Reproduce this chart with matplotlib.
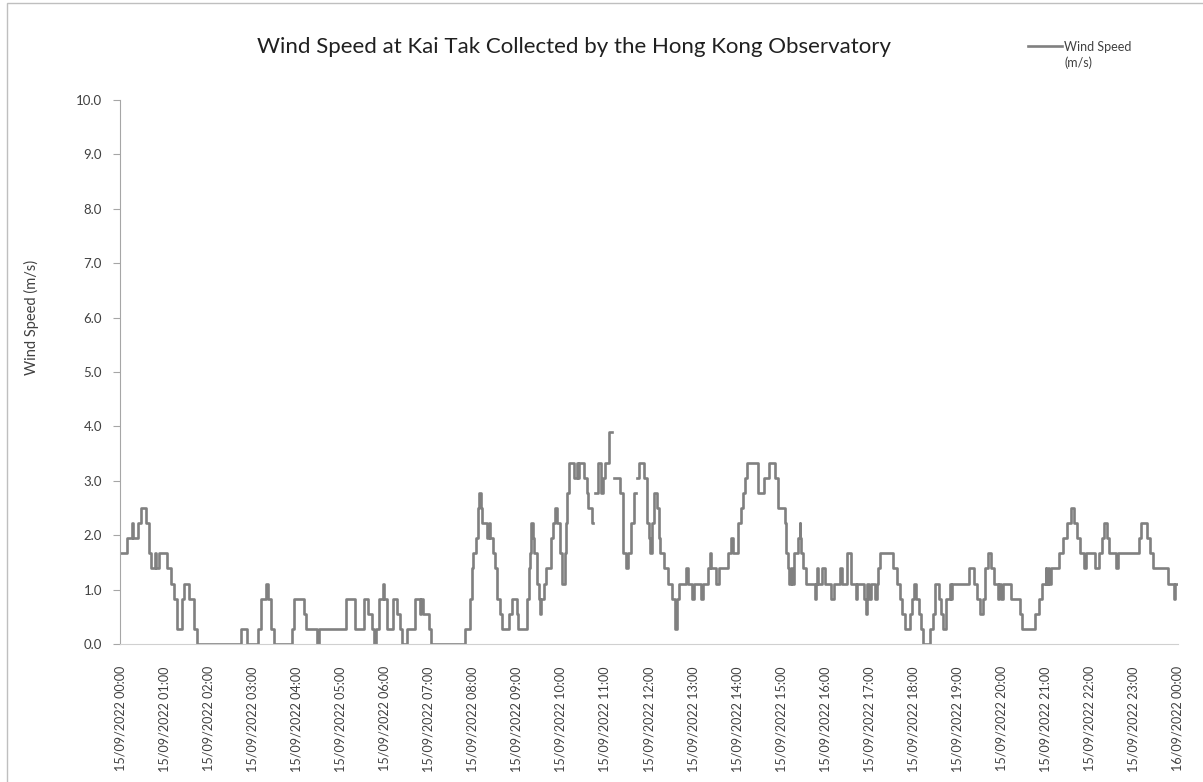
import pandas as pd
import matplotlib
matplotlib.use("Agg")
import matplotlib.pyplot as plt
import matplotlib.dates as mdates
from matplotlib.patches import Rectangle

# minutes after 15/09/2022 00:00 at which the reading changes
minutes = [
    0, 9, 16, 18, 25, 29, 35, 39, 42, 48, 49, 53, 64, 70, 74, 77, 84, 87, 94, 100,
    105, 164, 173, 188, 192, 198, 201, 205, 209, 234, 237, 250, 253, 268, 271, 308,
    320, 332, 338, 343, 345, 348, 352, 358, 359, 363, 372, 377, 381, 384, 390, 402,
    408, 410, 413, 421, 423, 470, 477, 479, 481, 484, 487, 488, 491, 493, 500, 502,
    503, 507, 510, 513, 517, 520, 530, 534, 540, 542, 554, 556, 558, 560, 562, 563,
    567, 570, 571, 573, 577, 580, 586, 589, 592, 595, 599, 602, 605, 607, 609, 611,
    618, 622, 623, 625, 632, 635, 637, 642, 644, 646, 651, 654, 657, 660, 666, 670,
    673, 681, 684, 689, 692, 695, 700, 702, 704, 707, 713, 717, 720, 722, 724, 727,
    731, 733, 735, 741, 746, 751, 755, 758, 761, 770, 773, 779, 781, 791, 793, 800,
    803, 805, 811, 815, 827, 832, 834, 841, 845, 848, 851, 854, 868, 877, 883, 891,
    895, 896, 905, 907, 909, 911, 913, 915, 917, 918, 923, 925, 926, 927, 929, 933,
    946, 947, 949, 950, 955, 959, 968, 972, 980, 982, 989, 995, 1002, 1003, 1012,
    1015, 1017, 1019, 1022, 1027, 1030, 1032, 1034, 1052, 1057, 1061, 1064, 1068,
    1075, 1078, 1081, 1084, 1087, 1090, 1093, 1103, 1107, 1109, 1115, 1118, 1120,
    1124, 1130, 1131, 1132, 1155, 1163, 1167, 1171, 1174, 1177, 1181, 1186, 1189,
    1195, 1197, 1199, 1202, 1213, 1225, 1228, 1246, 1251, 1255, 1260, 1261, 1263,
    1265, 1267, 1278, 1284, 1289, 1295, 1299, 1302, 1306, 1312, 1315, 1327, 1332,
    1336, 1339, 1343, 1346, 1355, 1358, 1387, 1390, 1398, 1402, 1406, 1427, 1434,
    1436, 1440,
]

nan = float("nan")
# wind speed (m/s) from each change time, nan = missing reading
speed = [
    1.67, 1.94, 2.22, 1.94, 2.22, 2.50, 2.22, 1.67, 1.39, 1.67, 1.39, 1.67, 1.39, 1.11, 0.83, 0.28, 0.83, 1.11, 0.83, 0.28,
    0.00, 0.28, 0.00, 0.28, 0.83, 1.11, 0.83, 0.28, 0.00, 0.28, 0.83, 0.56, 0.28, 0.00, 0.28, 0.83,
    0.28, 0.83, 0.56, 0.28, 0.00, 0.28, 0.83, 1.11, 0.83, 0.28, 0.83, 0.56, 0.28, 0.00, 0.28, 0.83,
    0.56, 0.83, 0.56, 0.28, 0.00, 0.28, 0.83, 1.39, 1.67, 1.94, 2.50, 2.78, 2.50, 2.22, 1.94, 2.22,
    1.94, 1.67, 1.39, 0.83, 0.56, 0.28, 0.56, 0.83, 0.56, 0.28, 0.83, 1.39, 1.67, 2.22, 1.94, 1.67,
    1.11, 0.83, 0.56, 0.83, 1.11, 1.39, 1.94, 2.22, 2.50, 2.22, 1.67, 1.11, 1.67, 2.22, 2.78, 3.33,
    3.06, 3.33, 3.06, 3.33, 3.06, 2.78, 2.50, 2.22, nan, 2.78, 3.33, 2.78, 3.06, 3.33, 3.89, nan,
    3.06, 2.78, 1.67, 1.39, 1.67, 2.22, 2.78, nan, 3.06, 3.33, 3.06, 2.22, 1.94, 1.67, 2.22, 2.78,
    2.50, 1.94, 1.67, 1.39, 1.11, 0.83, 0.28, 0.83, 1.11, 1.39, 1.11, 0.83, 1.11, 0.83, 1.11, 1.39,
    1.67, 1.39, 1.11, 1.39, 1.67, 1.94, 1.67, 2.22, 2.50, 2.78, 3.06, 3.33, 2.78, 3.06, 3.33, 3.06,
    2.78, 2.50, 2.22, 1.67, 1.39, 1.11, 1.39, 1.11, 1.39, 1.67, 1.94, 2.22, 1.94, 1.67, 1.39, 1.11,
    0.83, 1.11, 1.39, 1.11, 1.39, 1.11, 0.83, 1.11, 1.39, 1.11, 1.67, 1.11, 0.83, 1.11, 0.83,
    0.56, 1.11, 0.83, 1.11, 0.83, 1.11, 1.39, 1.67, 1.39, 1.11, 0.83, 0.56, 0.28,
    0.56, 0.83, 1.11, 0.83, 0.56, 0.28, 0.00, 0.28, 0.56, 1.11, 0.83, 0.56, 0.28,
    0.83, 1.11, 0.83, 1.11, 1.39, 1.11, 0.83, 0.56, 0.83, 1.39, 1.67, 1.39, 1.11,
    0.83, 1.11, 0.83, 1.11, 0.83, 0.56, 0.28, 0.56, 0.83, 1.11, 1.39, 1.11, 1.39,
    1.11, 1.39, 1.67, 1.94, 2.22, 2.50, 2.22, 1.94, 1.67, 1.39, 1.67, 1.39, 1.67,
    1.94, 2.22, 1.94, 1.67, 1.39, 1.67, 1.94, 2.22, 1.94, 1.67, 1.39, 1.11, 0.83,
    1.11, 1.11,
]

day_start = pd.Timestamp("2022-09-15 00:00")
times = day_start + pd.to_timedelta(minutes, unit="m")

plt.rcParams["font.family"] = ["Lato", "DejaVu Sans"]

fig = plt.figure(figsize=(12.03, 7.82), dpi=100)
ax = fig.add_axes([0.0998, 0.1765, 0.8794, 0.6955])

line_col = "#808080"
axis_col = "#a6a6a6"
text_col = "#404040"

ax.plot(times, speed, drawstyle="steps-post", color=line_col, lw=1.9,
        label="Wind Speed")

ax.set_xlim(day_start, day_start + pd.Timedelta(hours=24))
ax.set_ylim(0, 10)
ax.set_yticks(range(11))
ax.yaxis.set_major_formatter(plt.FormatStrFormatter("%.1f"))

ax.xaxis.set_major_locator(mdates.HourLocator(interval=1))
ax.xaxis.set_major_formatter(mdates.DateFormatter("%d/%m/%Y %H:%M"))
plt.setp(ax.get_xticklabels(), rotation=90, ha="center", va="top")

for s in ["top", "right"]:
    ax.spines[s].set_visible(False)
ax.spines["left"].set_color(axis_col)
ax.spines["bottom"].set_color("#d0d0d0")
ax.tick_params(axis="y", colors=axis_col, labelcolor=text_col, labelsize=9.5,
               length=5, width=0.8, pad=8)
ax.tick_params(axis="x", length=0, labelcolor=text_col, labelsize=9.1, pad=16)

ax.set_ylabel("Wind Speed (m/s)", fontsize=10.5, color=text_col)
ax.yaxis.set_label_coords(-0.077, 0.6)

fig.text(0.477, 0.94, "Wind Speed at Kai Tak Collected by the Hong Kong Observatory",
         ha="center", va="center", fontsize=16, color="#202020")

# legend: line sample sits on the first text line, units below
fig.legend(loc="upper left", bbox_to_anchor=(0.8545, 0.948), frameon=False,
           fontsize=9, handlelength=2.7, handletextpad=0.15, borderpad=0,
           borderaxespad=0, labelcolor=text_col)
fig.text(0.8845, 0.9194, "(m/s)", ha="left", va="center", fontsize=9, color=text_col)

# chart area border
fig.patches.append(Rectangle((0.0056, -0.01), 1.2, 1.006, transform=fig.transFigure,
                             fill=False, edgecolor="#bfbfbf", lw=1))

fig.savefig("out.png", dpi=100)
